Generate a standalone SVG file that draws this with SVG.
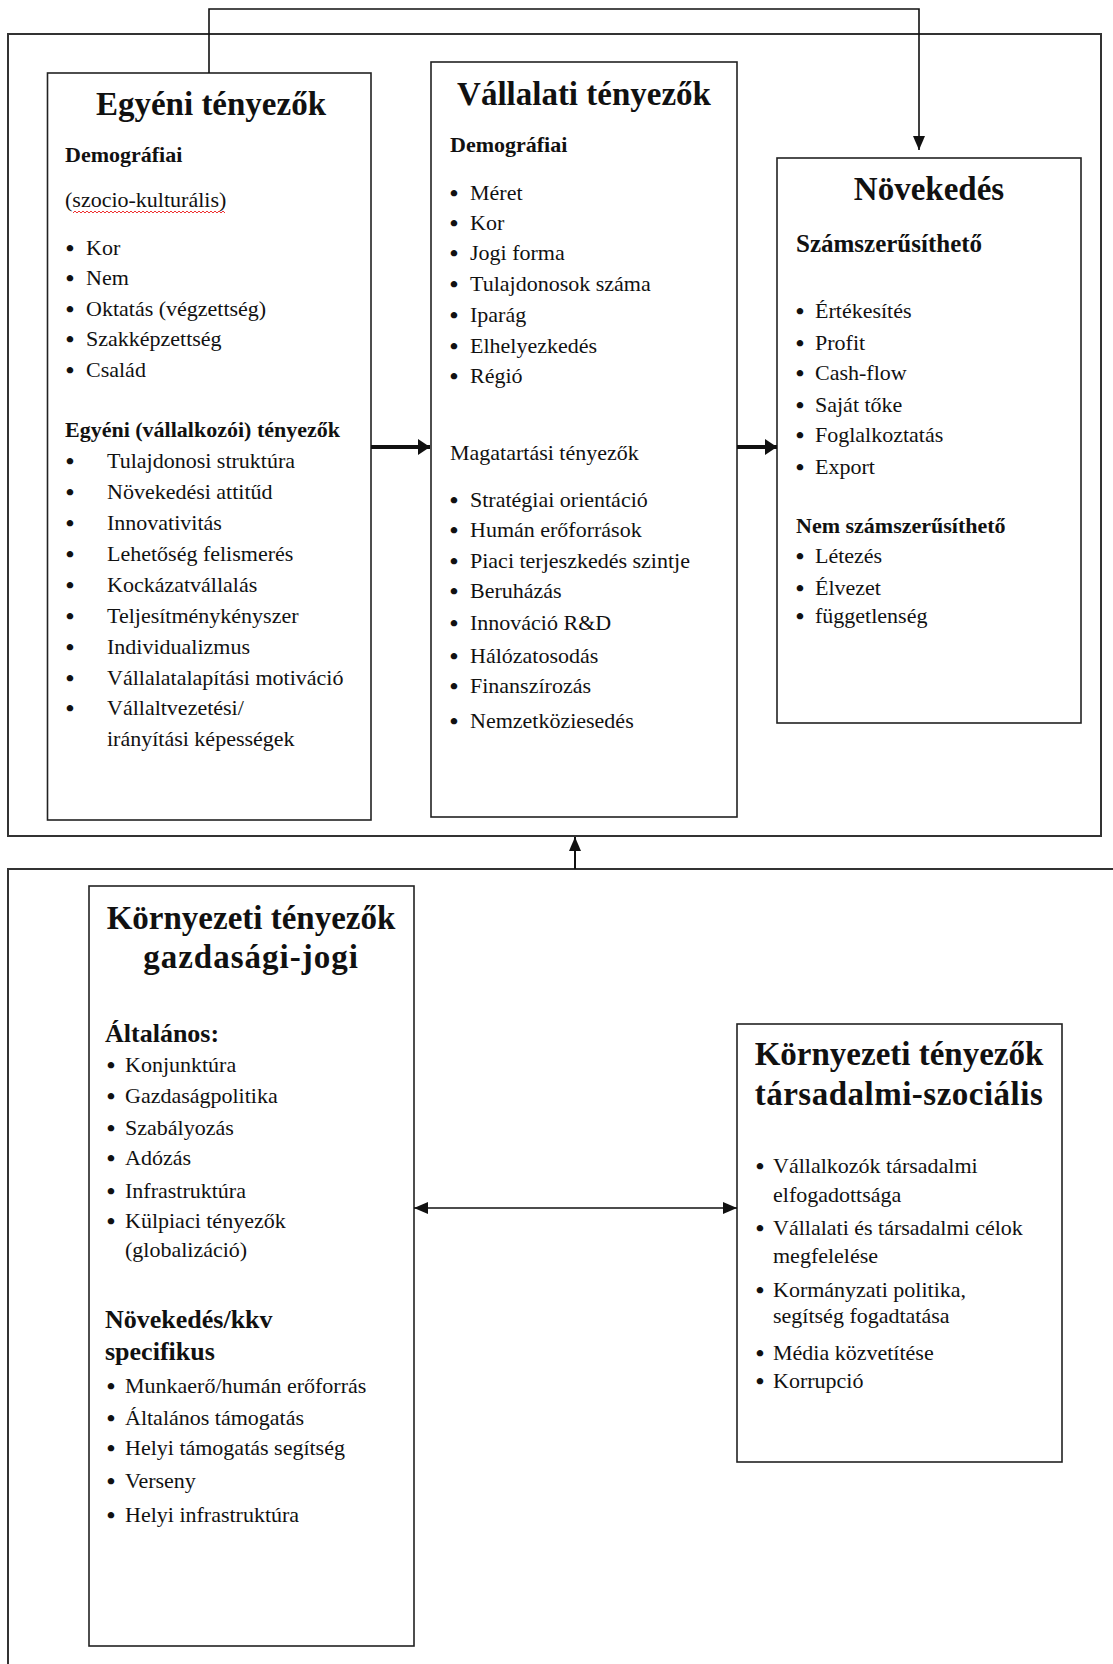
<svg xmlns="http://www.w3.org/2000/svg" width="1113" height="1664" viewBox="0 0 1113 1664">
<style>
text{font-family:"Liberation Serif","Times New Roman",serif;fill:#111;}
.t{font-size:33px;font-weight:bold;text-anchor:middle;}
.h{font-size:22px;font-weight:bold;}
.h2{font-size:26px;font-weight:bold;}
.b{font-size:22px;}
.d{font-size:24px;font-weight:bold;text-anchor:middle;transform:translateY(1px);}
.box{fill:#fff;stroke:#222;stroke-width:1.6;}
.frame{fill:none;stroke:#333;stroke-width:2;}
.ln{fill:none;stroke:#111;stroke-width:1.6;}
.thick{fill:none;stroke:#111;stroke-width:4;}
</style>
<defs>
<marker id="ah" markerUnits="userSpaceOnUse" markerWidth="14" markerHeight="12" refX="14" refY="6" orient="auto-start-reverse" viewBox="0 0 14 12"><path d="M0,0 L14,6 L0,12 z" fill="#111"/></marker>
<marker id="ahb" markerUnits="userSpaceOnUse" markerWidth="12" markerHeight="16" refX="12" refY="8" orient="auto" viewBox="0 0 12 16"><path d="M0,0 L12,8 L0,16 z" fill="#111"/></marker>
</defs>
<rect width="1113" height="1664" fill="#fff"/>
<g id="frames">
<rect class="frame" x="8" y="34" width="1093" height="802"/>
<path class="frame" d="M8,1664 L8,869 L1113,869"/>
</g>
<g id="egyeni">
<rect class="box" x="47.5" y="73" width="323.5" height="747"/>
<text class="t" x="211" y="115">Egyéni tényezők</text>
<text class="h" x="65" y="162">Demográfiai</text>
<text class="b" x="65" y="207">(szocio-kulturális)</text>
<path d="M73,213 l2,-2 l2,2 l2,-2 l2,2 l2,-2 l2,2 l2,-2 l2,2 l2,-2 l2,2 l2,-2 l2,2 l2,-2 l2,2 l2,-2 l2,2 l2,-2 l2,2 l2,-2 l2,2 l2,-2 l2,2 l2,-2 l2,2 l2,-2 l2,2 l2,-2 l2,2 l2,-2 l2,2 l2,-2 l2,2 l2,-2 l2,2 l2,-2 l2,2 l2,-2 l2,2 l2,-2 l2,2 l2,-2 l2,2 l2,-2 l2,2 l2,-2 l2,2 l2,-2 l2,2 l2,-2 l2,2 l2,-2 l2,2 l2,-2 l2,2 l2,-2 l2,2 l2,-2 l2,2 l2,-2 l2,2 l2,-2 l2,2 l2,-2 l2,2 l2,-2 l2,2 l2,-2 l2,2 l2,-2 l2,2 l2,-2 l2,2 l2,-2 l2,2 l2,-2 l2,2" fill="none" stroke="#e33" stroke-width="1"/>
<text class="d" x="70" y="255">•</text><text class="b" x="86" y="255">Kor</text>
<text class="d" x="70" y="285">•</text><text class="b" x="86" y="285">Nem</text>
<text class="d" x="70" y="316">•</text><text class="b" x="86" y="316">Oktatás (végzettség)</text>
<text class="d" x="70" y="346">•</text><text class="b" x="86" y="346">Szakképzettség</text>
<text class="d" x="70" y="377">•</text><text class="b" x="86" y="377">Család</text>
<text class="h" x="65" y="437">Egyéni (vállalkozói)  tényezők</text>
<text class="d" x="70" y="468">•</text><text class="b" x="107" y="468">Tulajdonosi struktúra</text>
<text class="d" x="70" y="499">•</text><text class="b" x="107" y="499">Növekedési attitűd</text>
<text class="d" x="70" y="530">•</text><text class="b" x="107" y="530">Innovativitás</text>
<text class="d" x="70" y="561">•</text><text class="b" x="107" y="561">Lehetőség felismerés</text>
<text class="d" x="70" y="592">•</text><text class="b" x="107" y="592">Kockázatvállalás</text>
<text class="d" x="70" y="623">•</text><text class="b" x="107" y="623">Teljesítménykényszer</text>
<text class="d" x="70" y="654">•</text><text class="b" x="107" y="654">Individualizmus</text>
<text class="d" x="70" y="685">•</text><text class="b" x="107" y="685">Vállalatalapítási  motiváció</text>
<text class="d" x="70" y="715">•</text><text class="b" x="107" y="715">Vállaltvezetési/</text>
<text class="b" x="107" y="746">irányítási képességek</text>
</g>
<g id="vallalati">
<rect class="box" x="431" y="62" width="306" height="755"/>
<text class="t" x="584" y="105">Vállalati tényezők</text>
<text class="h" x="450" y="152">Demográfiai</text>
<text class="d" x="454" y="200">•</text><text class="b" x="470" y="200">Méret</text>
<text class="d" x="454" y="230">•</text><text class="b" x="470" y="230">Kor</text>
<text class="d" x="454" y="260">•</text><text class="b" x="470" y="260">Jogi forma</text>
<text class="d" x="454" y="291">•</text><text class="b" x="470" y="291">Tulajdonosok száma</text>
<text class="d" x="454" y="322">•</text><text class="b" x="470" y="322">Iparág</text>
<text class="d" x="454" y="353">•</text><text class="b" x="470" y="353">Elhelyezkedés</text>
<text class="d" x="454" y="383">•</text><text class="b" x="470" y="383">Régió</text>
<text class="b" x="450" y="460">Magatartási tényezők</text>
<text class="d" x="454" y="507">•</text><text class="b" x="470" y="507">Stratégiai orientáció</text>
<text class="d" x="454" y="537">•</text><text class="b" x="470" y="537">Humán erőforrások</text>
<text class="d" x="454" y="568">•</text><text class="b" x="470" y="568">Piaci terjeszkedés szintje</text>
<text class="d" x="454" y="598">•</text><text class="b" x="470" y="598">Beruházás</text>
<text class="d" x="454" y="630">•</text><text class="b" x="470" y="630">Innováció R&amp;D</text>
<text class="d" x="454" y="663">•</text><text class="b" x="470" y="663">Hálózatosodás</text>
<text class="d" x="454" y="693">•</text><text class="b" x="470" y="693">Finanszírozás</text>
<text class="d" x="454" y="728">•</text><text class="b" x="470" y="728">Nemzetköziesedés</text>
</g>
<g id="novekedes">
<rect class="box" x="777" y="158" width="304" height="565"/>
<text class="t" x="929" y="200">Növekedés</text>
<text class="h" x="796" y="252" style="font-size:25px">Számszerűsíthető</text>
<text class="d" x="800" y="318">•</text><text class="b" x="815" y="318">Értékesítés</text>
<text class="d" x="800" y="350">•</text><text class="b" x="815" y="350">Profit</text>
<text class="d" x="800" y="380">•</text><text class="b" x="815" y="380">Cash-flow</text>
<text class="d" x="800" y="412">•</text><text class="b" x="815" y="412">Saját tőke</text>
<text class="d" x="800" y="442">•</text><text class="b" x="815" y="442">Foglalkoztatás</text>
<text class="d" x="800" y="474">•</text><text class="b" x="815" y="474">Export</text>
<text class="h" x="796" y="533">Nem számszerűsíthető</text>
<text class="d" x="800" y="563">•</text><text class="b" x="815" y="563">Létezés</text>
<text class="d" x="800" y="595">•</text><text class="b" x="815" y="595">Élvezet</text>
<text class="d" x="800" y="623">•</text><text class="b" x="815" y="623">függetlenség</text>
</g>
<g id="kornyezeti-gazdasagi">
<rect class="box" x="89" y="886" width="325" height="760"/>
<text class="t" x="251" y="929">Környezeti tényezők</text>
<text class="t" x="251" y="968" style="letter-spacing:1px">gazdasági-jogi</text>
<text class="h2" x="105" y="1042">Általános:</text>
<text class="d" x="111" y="1072">•</text><text class="b" x="125" y="1072">Konjunktúra</text>
<text class="d" x="111" y="1103">•</text><text class="b" x="125" y="1103">Gazdaságpolitika</text>
<text class="d" x="111" y="1135">•</text><text class="b" x="125" y="1135">Szabályozás</text>
<text class="d" x="111" y="1165">•</text><text class="b" x="125" y="1165">Adózás</text>
<text class="d" x="111" y="1198">•</text><text class="b" x="125" y="1198">Infrastruktúra</text>
<text class="d" x="111" y="1228">•</text><text class="b" x="125" y="1228">Külpiaci tényezők</text>
<text class="b" x="125" y="1257">(globalizáció)</text>
<text class="h2" x="105" y="1328">Növekedés/kkv</text>
<text class="h2" x="105" y="1360">specifikus</text>
<text class="d" x="111" y="1393">•</text><text class="b" x="125" y="1393">Munkaerő/humán erőforrás</text>
<text class="d" x="111" y="1425">•</text><text class="b" x="125" y="1425">Általános támogatás</text>
<text class="d" x="111" y="1455">•</text><text class="b" x="125" y="1455">Helyi támogatás  segítség</text>
<text class="d" x="111" y="1488">•</text><text class="b" x="125" y="1488">Verseny</text>
<text class="d" x="111" y="1522">•</text><text class="b" x="125" y="1522">Helyi infrastruktúra</text>
</g>
<g id="kornyezeti-tarsadalmi">
<rect class="box" x="737" y="1024" width="325" height="438"/>
<text class="t" x="899" y="1065">Környezeti tényezők</text>
<text class="t" x="899" y="1105" style="letter-spacing:0.5px">társadalmi-szociális</text>
<text class="d" x="760" y="1173">•</text><text class="b" x="773" y="1173">Vállalkozók társadalmi</text>
<text class="b" x="773" y="1202">elfogadottsága</text>
<text class="d" x="760" y="1235">•</text><text class="b" x="773" y="1235">Vállalati és társadalmi  célok</text>
<text class="b" x="773" y="1263">megfelelése</text>
<text class="d" x="760" y="1297">•</text><text class="b" x="773" y="1297">Kormányzati politika,</text>
<text class="b" x="773" y="1323">segítség fogadtatása</text>
<text class="d" x="760" y="1360">•</text><text class="b" x="773" y="1360">Média közvetítése</text>
<text class="d" x="760" y="1388">•</text><text class="b" x="773" y="1388">Korrupció</text>
</g>
<g id="connectors">
<path class="ln" d="M209,73 L209,9 L919,9 L919,150" marker-end="url(#ah)"/>
<path class="thick" d="M371,447 L430,447" marker-end="url(#ahb)"/>
<path class="thick" d="M737,447 L777,447" marker-end="url(#ahb)"/>
<path class="ln" style="stroke-width:2" d="M575,869 L575,837" marker-end="url(#ah)"/>
<path class="ln" d="M414,1208 L737,1208" marker-start="url(#ah)" marker-end="url(#ah)"/>
</g>
</svg>
